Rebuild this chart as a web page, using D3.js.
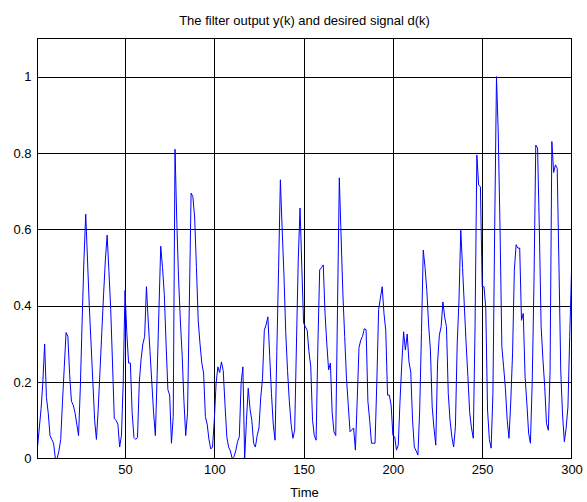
<!DOCTYPE html>
<html><head><meta charset="utf-8">
<script src="https://cdn.jsdelivr.net/npm/d3@7"></script>
<style>body{margin:0;background:#fff}svg{display:block}text{font-family:"Liberation Sans",Arial,sans-serif}</style>
</head><body>
<svg id="chart" width="587" height="502"></svg>
<script>
const title = "The filter output y(k) and desired signal d(k)";
const xLabel = "Time";
const xTicks = [50, 100, 150, 200, 250, 300];
const yTicks = [0, 0.2, 0.4, 0.6, 0.8, 1];
const yTickLabels = ["0", "0.2", "0.4", "0.6", "0.8", "1"];
const signal = [
0.03,0.08,0.13,0.20,0.30,0.16,0.12,0.06,0.05,0.04,
0.00,0.00,0.02,0.05,0.15,0.24,0.33,0.32,0.22,0.15,
0.14,0.12,0.09,0.06,0.19,0.36,0.52,0.64,0.52,0.40,
0.30,0.20,0.10,0.05,0.13,0.23,0.33,0.43,0.52,0.585,
0.49,0.39,0.25,0.105,0.10,0.09,0.03,0.06,0.20,0.44,
0.33,0.25,0.25,0.12,0.055,0.05,0.055,0.20,0.26,0.30,
0.32,0.45,0.36,0.28,0.20,0.12,0.06,0.22,0.39,0.556,
0.50,0.43,0.30,0.18,0.166,0.04,0.11,0.81,0.62,0.47,
0.36,0.27,0.15,0.06,0.12,0.40,0.695,0.686,0.63,0.50,
0.36,0.30,0.25,0.224,0.11,0.09,0.05,0.025,0.03,0.10,
0.197,0.24,0.225,0.253,0.23,0.14,0.057,0.03,0.02,0.00,
0.005,0.02,0.044,0.057,0.197,0.24,0.00,0.10,0.184,0.13,
0.10,0.04,0.03,0.06,0.08,0.16,0.21,0.336,0.35,0.371,
0.27,0.17,0.09,0.048,0.28,0.50,0.73,0.60,0.48,0.33,
0.23,0.15,0.09,0.053,0.074,0.30,0.52,0.656,0.50,0.355,
0.345,0.336,0.28,0.24,0.10,0.06,0.048,0.30,0.494,0.50,
0.507,0.38,0.30,0.232,0.25,0.12,0.07,0.06,0.40,0.735,
0.58,0.43,0.32,0.21,0.14,0.07,0.075,0.08,0.022,0.15,
0.29,0.31,0.32,0.34,0.337,0.15,0.10,0.04,0.04,0.04,
0.20,0.39,0.42,0.45,0.38,0.336,0.166,0.166,0.14,0.06,
0.057,0.022,0.035,0.153,0.25,0.332,0.284,0.326,0.253,0.227,
0.10,0.03,0.02,0.009,0.127,0.33,0.546,0.50,0.44,0.35,
0.284,0.135,0.08,0.035,0.25,0.323,0.345,0.41,0.37,0.345,
0.17,0.10,0.057,0.03,0.083,0.30,0.415,0.598,0.50,0.40,
0.30,0.214,0.12,0.08,0.053,0.345,0.795,0.716,0.712,0.45,
0.45,0.394,0.127,0.05,0.027,0.17,0.607,1.0,0.85,0.60,
0.293,0.24,0.184,0.10,0.053,0.15,0.276,0.494,0.56,0.551,
0.551,0.362,0.38,0.214,0.145,0.066,0.04,0.20,0.463,0.821,
0.813,0.60,0.345,0.26,0.188,0.092,0.074,0.227,0.83,0.749,
0.769,0.76,0.50,0.227,0.114,0.044,0.08,0.135,0.319,0.489
];
const timeIdx = signal.map((_, i) => i + 1);

const svg = d3.select("#chart");
const mLeft = 37.5, mRight = 571.5, mTop = 38.5, mBottom = 458.5;
const x = d3.scaleLinear().domain([1, 300]).range([mLeft, mRight]);
const y = d3.scaleLinear().domain([0, 1.1]).range([mBottom, mTop]);
const fs = 13;

svg.append("rect").attr("width", 587).attr("height", 502).attr("fill", "#fff");

// grid
const g = svg.append("g");
g.selectAll(".vg").data(xTicks.filter(t => t < 300)).enter().append("line")
 .attr("x1", d => Math.round(x(d)) + 0.5).attr("x2", d => Math.round(x(d)) + 0.5)
 .attr("y1", mTop).attr("y2", mBottom).attr("stroke", "#000").attr("stroke-width", 1);
g.selectAll(".hg").data(yTicks.filter(t => t > 0)).enter().append("line")
 .attr("y1", d => Math.round(y(d)) + 0.5).attr("y2", d => Math.round(y(d)) + 0.5)
 .attr("x1", mLeft).attr("x2", mRight).attr("stroke", "#000").attr("stroke-width", 1);

// line
const line = d3.line().x((d, i) => x(timeIdx[i])).y(d => y(d));
svg.append("path").datum(signal).attr("d", line).attr("fill", "none")
 .attr("stroke", "#0000ff").attr("stroke-width", 1);

// axes
const xAxis = d3.axisBottom(x).tickValues(xTicks).tickSize(0).tickPadding(6);
const gx = svg.append("g").attr("transform", `translate(0,${mBottom})`).call(xAxis);
gx.select(".domain").remove();
gx.selectAll("text").attr("font-size", fs).attr("fill", "#000").attr("font-family", "Liberation Sans, Arial, sans-serif");

const yAxis = d3.axisLeft(y).tickValues(yTicks).tickFormat((d, i) => yTickLabels[i]).tickSize(0).tickPadding(6);
const gy = svg.append("g").attr("transform", `translate(${mLeft},0)`).call(yAxis);
gy.select(".domain").remove();
gy.selectAll("text").attr("font-size", fs).attr("fill", "#000").attr("font-family", "Liberation Sans, Arial, sans-serif");

svg.append("rect").attr("x", mLeft).attr("y", mTop).attr("width", mRight-mLeft).attr("height", mBottom-mTop)
 .attr("fill", "none").attr("stroke", "#000").attr("stroke-width", 1);

svg.append("text").attr("x", (mLeft+mRight)/2).attr("y", 25).attr("text-anchor", "middle")
 .attr("font-size", fs).text(title);
svg.append("text").attr("x", (mLeft+mRight)/2).attr("y", 497).attr("text-anchor", "middle")
 .attr("font-size", fs).text(xLabel);
</script>
</body></html>
